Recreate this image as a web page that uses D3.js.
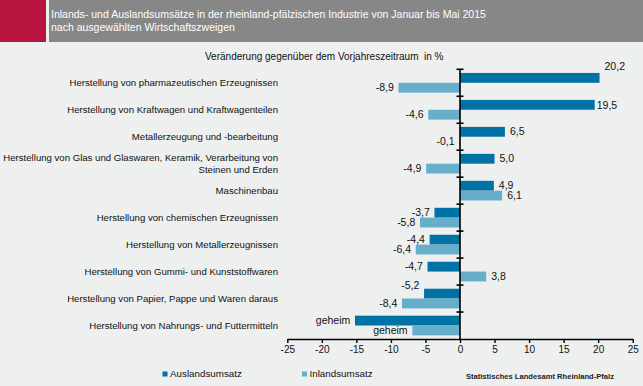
<!DOCTYPE html>
<html><head><meta charset="utf-8">
<script src="https://cdn.jsdelivr.net/npm/d3@7"></script>
<style>
html,body{margin:0;padding:0;background:#eef0ef;}
svg{display:block;font-family:"Liberation Sans",Arial,sans-serif;}
</style></head>
<body>
<script>
const titleLines = ["Inlands- und Auslandsumsätze in der rheinland-pfälzischen Industrie von Januar bis Mai 2015","nach ausgewählten Wirtschaftszweigen"];
const subtitle = "Veränderung gegenüber dem Vorjahreszeitraum  in %";
const categories = [
  ["Herstellung von pharmazeutischen Erzeugnissen"],
  ["Herstellung von Kraftwagen und Kraftwagenteilen"],
  ["Metallerzeugung und -bearbeitung"],
  ["Herstellung von Glas und Glaswaren, Keramik, Verarbeitung von","Steinen und Erden"],
  ["Maschinenbau"],
  ["Herstellung von chemischen Erzeugnissen"],
  ["Herstellung von Metallerzeugnissen"],
  ["Herstellung von Gummi- und Kunststoffwaren"],
  ["Herstellung von Papier, Pappe und Waren daraus"],
  ["Herstellung von Nahrungs- und Futtermitteln"]
];
const seriesNames = ["Auslandsumsatz","Inlandsumsatz"];
const auslandValues = [20.2, 19.5, 6.5, 5.0, 4.9, -3.7, -4.4, -4.7, -5.2, -15.2];
const inlandValues  = [-8.9, -4.6, -0.1, -4.9, 6.1, -5.8, -6.4, 3.8, -8.4, -6.9];
const auslandLabels = ["20,2","19,5","6,5","5,0","4,9","-3,7","-4,4","-4,7","-5,2","geheim"];
const inlandLabels  = ["-8,9","-4,6","-0,1","-4,9","6,1","-5,8","-6,4","3,8","-8,4","geheim"];
const xTicks = [-25,-20,-15,-10,-5,0,5,10,15,20,25];
const source = "Statistisches Landesamt Rheinland-Pfalz";

const W = 643, H = 386;
const colors = ["#0073a4","#67aecb"];
const svg = d3.select("body").append("svg").attr("width",W).attr("height",H);
svg.append("rect").attr("width",W).attr("height",H).attr("fill","#eef0ef");

// header
svg.append("rect").attr("x",0).attr("y",0).attr("width",W).attr("height",42).attr("fill","#878787");
svg.append("rect").attr("x",46).attr("y",0).attr("width",3).attr("height",42).attr("fill","#eef0ef");
svg.append("rect").attr("x",0).attr("y",0).attr("width",46).attr("height",42).attr("fill","#b8143f");
svg.selectAll("text.title").data(titleLines).join("text").attr("class","title")
  .attr("x",51).attr("y",(d,i)=>18+i*13).attr("fill","#fff").attr("font-size","10.5px").text(d=>d);

svg.append("text").attr("x",205).attr("y",60).attr("font-size","10px").attr("fill","#111")
  .attr("xml:space","preserve").style("white-space","pre").text(subtitle);

const x = d3.scaleLinear().domain([-25,25]).range([287.3,632.7]);
const y = d3.scaleBand().domain(d3.range(categories.length)).range([69.3,339]).paddingInner(0.27).paddingOuter(0.135);
const ys = d3.scaleBand().domain([0,1]).range([0,y.bandwidth()]);

const data = categories.map((c,i)=>({i, vals:[auslandValues[i],inlandValues[i]], labs:[auslandLabels[i],inlandLabels[i]]}));

const g = svg.append("g");
const grp = g.selectAll("g.cat").data(data).join("g").attr("transform",d=>`translate(0,${y(d.i)})`);
grp.selectAll("rect").data(d=>d.vals.map((v,s)=>({v,s}))).join("rect")
  .attr("x",d=>x(Math.min(0,d.v))).attr("width",d=>Math.abs(x(d.v)-x(0)))
  .attr("y",d=>ys(d.s)).attr("height",ys.bandwidth()).attr("fill",d=>colors[d.s]);

// label nudges (code-side)
const nudge = {"0-0":[0,-12], "1-0":[-3,0], "8-0":[0,-8]};
grp.selectAll("text").data(d=>d.vals.map((v,s)=>({v,s,l:d.labs[s],k:d.i+"-"+s}))).join("text")
  .attr("x",d=>x(d.v)+(d.v>=0?5:-4.7)+((nudge[d.k]||[0,0])[0]))
  .attr("y",d=>ys(d.s)+ys.bandwidth()/2+((nudge[d.k]||[0,0])[1]))
  .attr("dy","0.35em").attr("text-anchor",d=>d.v>=0?"start":"end")
  .attr("font-size","10.5px").attr("fill","#111").text(d=>d.l);

// category labels
const cl = svg.selectAll("text.cat").data(data).join("text").attr("class","cat")
  .attr("text-anchor","end").attr("font-size","9.6px").attr("fill","#111");
cl.each(function(d){
  const lines = categories[d.i];
  const cy = y(d.i)+y.bandwidth()/2;
  d3.select(this).selectAll("tspan").data(lines).join("tspan")
    .attr("x",278).attr("y",(l,k)=>cy+(k-(lines.length-1)/2)*12.5).attr("dy","0.35em").text(l=>l);
});

// zero axis with category ticks
const step = y.step();
const top0 = y.range()[0];
svg.append("line").attr("x1",x(0)).attr("x2",x(0)).attr("y1",top0).attr("y2",339).attr("stroke","#000").attr("stroke-width",1.6);
svg.selectAll("line.ct").data(d3.range(categories.length)).join("line").attr("class","ct")
  .attr("x1",x(0)-3.5).attr("x2",x(0)+3.5).attr("y1",i=>top0+i*step).attr("y2",i=>top0+i*step)
  .attr("stroke","#000").attr("stroke-width",1.6);

// x axis
const xa = svg.append("g").attr("transform","translate(0,339)")
  .call(d3.axisBottom(x).tickValues(xTicks).tickSize(4).tickSizeOuter(0).tickFormat(d=>d));
xa.select(".domain").attr("stroke","#000").attr("stroke-width",1.6);
xa.selectAll(".tick line").attr("stroke","#000").attr("stroke-width",1.4);
xa.selectAll(".tick text").attr("font-size","10px").attr("fill","#111").attr("y",7).attr("font-family","Liberation Sans, Arial, sans-serif");

// legend
const lx = [162.5, 302];
const lg = svg.selectAll("g.leg").data(seriesNames).join("g").attr("class","leg")
  .attr("transform",(d,i)=>`translate(${lx[i]},371.5)`);
lg.append("rect").attr("width",5).attr("height",5).attr("fill",(d,i)=>colors[i]);
lg.append("text").attr("x",7.5).attr("y",2.5).attr("dy","0.35em").attr("font-size","9.8px").attr("fill","#111").text(d=>d);

svg.append("text").attr("x",614).attr("y",376).attr("dy","0.35em").attr("text-anchor","end")
  .attr("font-size","7.6px").attr("font-weight","bold").attr("fill","#222").text(source);
</script>
</body></html>
